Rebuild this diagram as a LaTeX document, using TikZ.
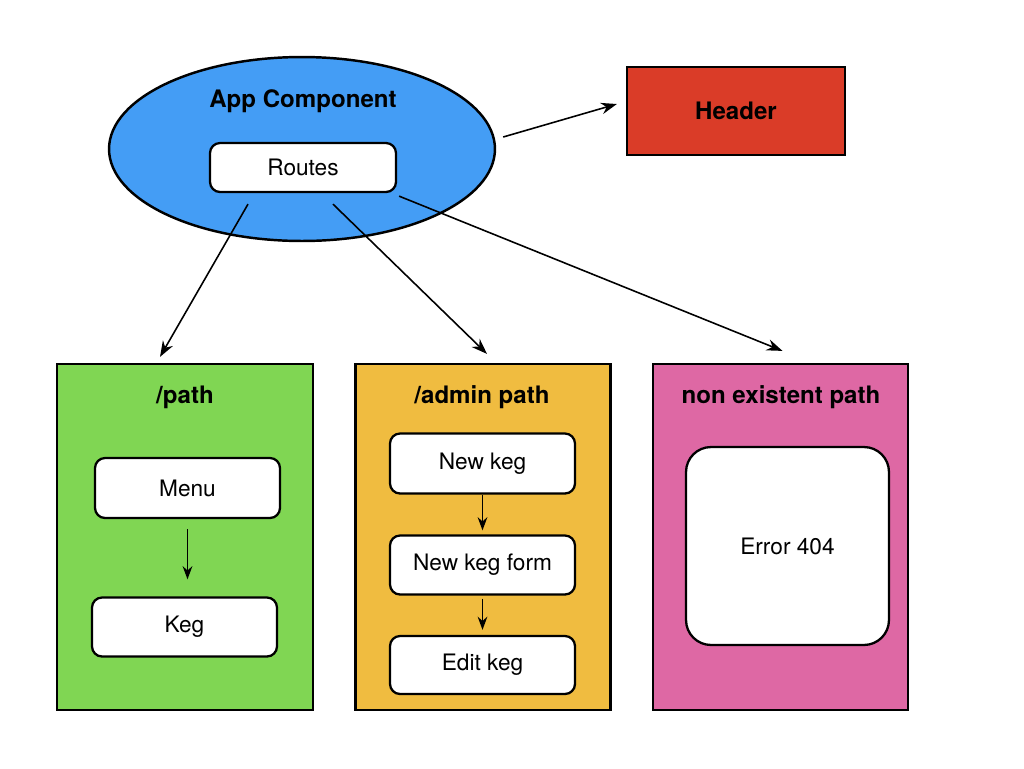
\documentclass[tikz,border=0pt]{standalone}
\usepackage{fontspec}
\setmainfont{TeX Gyre Heros}
\usetikzlibrary{shapes.geometric,arrows.meta}
\definecolor{appblue}{RGB}{68,157,245}
\definecolor{hdrred}{RGB}{218,60,40}
\definecolor{pathgreen}{RGB}{128,214,83}
\definecolor{adminorange}{RGB}{240,188,64}
\definecolor{errpink}{RGB}{222,104,164}
\tikzset{
  container/.style={draw=black, line width=1.3pt, inner sep=0pt},
  titletext/.style={font=\fontsize{13.7}{16}\selectfont\bfseries, inner sep=0pt, anchor=base},
  itembox/.style={draw=black, line width=1.3pt, fill=white, rounded corners=0.2cm,
     inner sep=0pt, font=\fontsize{12.9}{15}\selectfont},
  conn/.style={line width=0.9pt, -{Stealth[length=9pt,width=6.5pt]}},
  innerconn/.style={line width=0.9pt, -{Stealth[length=7.5pt,width=5.5pt]}}
}
\begin{document}
\begin{tikzpicture}[x=0.02cm,y=-0.02cm]
\useasboundingbox (0,0) rectangle (1024,768);
% App component
\node[ellipse, draw=black, line width=1.4pt, fill=appblue, minimum width=7.72cm, minimum height=3.68cm, inner sep=0pt] (app) at (302,149) {};
\node[titletext] (apptitle) at (303,107) {App Component};
\node[itembox, minimum width=3.72cm, minimum height=0.98cm] (routes) at (303,167.5) {Routes};
% Header
\node[container, fill=hdrred, minimum width=4.36cm, minimum height=1.76cm, font=\fontsize{13.7}{16}\selectfont\bfseries] (header) at (736,111) {Header};
% containers
\node[container, fill=pathgreen, minimum width=5.12cm, minimum height=6.92cm] (path) at (185,537) {};
\node[titletext] (pathtitle) at (185,403) {/path};
\node[itembox, minimum width=3.7cm, minimum height=1.2cm] (menu) at (187.5,488) {Menu};
\node[itembox, minimum width=3.7cm, minimum height=1.18cm] (keg) at (184.5,627) {Keg};

\node[container, fill=adminorange, minimum width=5.1cm, minimum height=6.92cm] (admin) at (483,537) {};
\node[titletext] (admintitle) at (482,403) {/admin path};
\node[itembox, minimum width=3.7cm, minimum height=1.2cm] (newkeg) at (482.5,463.5) {New keg};
\node[itembox, minimum width=3.7cm, minimum height=1.18cm] (kegform) at (482.5,565) {New keg form};
\node[itembox, minimum width=3.7cm, minimum height=1.16cm] (editkeg) at (482.5,665) {Edit keg};

\node[container, fill=errpink, minimum width=5.1cm, minimum height=6.92cm] (nonexist) at (780.5,537) {};
\node[titletext] (nonexisttitle) at (781,403) {non existent path};
\node[itembox, rounded corners=0.5cm, minimum width=4.06cm, minimum height=3.96cm] (err) at (787.5,546) {Error 404};
% connectors
\draw[conn] ([shift={(7,-12)}]app.east) -- ([shift={(-9,-7)}]header.west);
\draw[conn] ([shift={(-55,11)}]routes.south) -- ([shift={(-25,-6)}]path.north);
\draw[conn] ([shift={(30,11)}]routes.south) -- ([shift={(4,-9)}]admin.north);
\draw[conn] ([shift={(2,3)}]routes.south east) -- ([shift={(2,-12)}]nonexist.north);
\draw[innerconn, shorten <=0.2cm, shorten >=0.34cm] (menu.south) -- (menu.south |- keg.north);
\draw[innerconn, shorten >=0.08cm] (newkeg.south) -- (newkeg.south |- kegform.north);
\draw[innerconn, shorten <=0.06cm, shorten >=0.1cm] (kegform.south) -- (kegform.south |- editkeg.north);
\end{tikzpicture}
\end{document}
